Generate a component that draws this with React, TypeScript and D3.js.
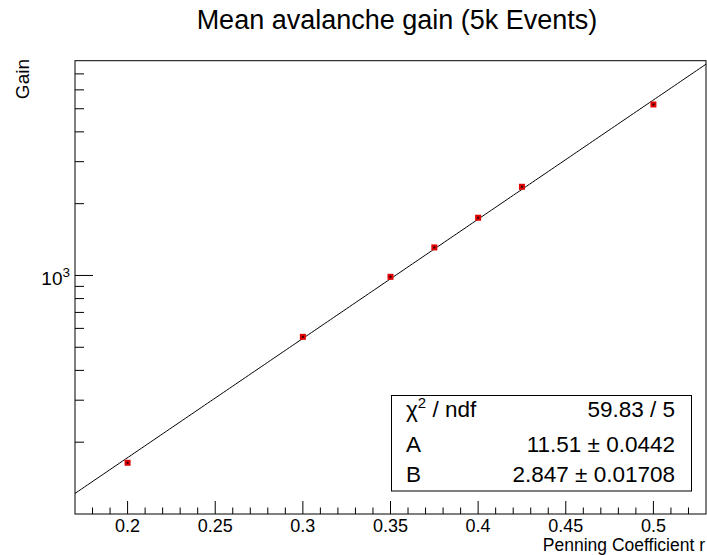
import React from 'react';
import * as d3 from 'd3';

// ---- data ----
const penningCoeff = [0.2, 0.3, 0.35, 0.375, 0.4, 0.425, 0.5];
const meanGain = [164, 553, 987, 1311, 1746, 2354, 5210];
const fitA = 11.51;
const fitB = 2.847;
const xMajorTicks = [0.2, 0.25, 0.3, 0.35, 0.4, 0.45, 0.5];
const xTickLabels = ['0.2', '0.25', '0.3', '0.35', '0.4', '0.45', '0.5'];
const yMajorTicks = [1000];
const yMinorTicks = [200, 300, 400, 500, 600, 700, 800, 900, 2000, 3000, 4000, 5000, 6000, 7000];
const statNames = ['A', 'B'];
const statValues = ['11.51', '2.847'];
const statErrors = ['0.0442', '0.01708'];
const chi2Text = '59.83 / 5';

const FONT = "'Liberation Sans', Arial, Helvetica, sans-serif";

export default function App() {
  const W = 707, H = 555;
  const left = 75, right = 706, top = 60.7, bottom = 514;
  const x = d3.scaleLinear().domain([0.17, 0.53]).range([left, right]);
  const y = d3.scaleLog().domain([100, 7950]).range([bottom, top]);

  const xMinor = d3.range(18, 53).map((i) => i / 100).filter((v) => Math.round(v * 100) % 5 !== 0);
  const fitXs = d3.range(0, 201).map((i) => 0.17 + (0.36 * i) / 200);
  const fitLine = d3
    .line<number>()
    .x((d) => x(d))
    .y((d) => y(Math.exp(fitA * d + fitB)));

  const boxL = 391.5, boxR = 691.5, boxT = 395.5, boxB = 491;
  const rowY = [417, 452, 482];
  const statFs = 22.5;

  return (
    <svg
      width={W}
      height={H}
      style={{ position: 'absolute', left: 0, top: 0, background: '#fff' }}
      fontFamily={FONT}
    >
      <rect x={0} y={0} width={W} height={H} fill="#fff" />
      {/* title */}
      <text x={397} y={28.5} fontSize={27} textAnchor="middle" fill="#000">
        Mean avalanche gain (5k Events)
      </text>

      {/* fit curve */}
      <defs>
        <clipPath id="frameClip">
          <rect x={left} y={top} width={right - left} height={bottom - top} />
        </clipPath>
      </defs>
      <path d={fitLine(fitXs) || ''} fill="none" stroke="#000" strokeWidth={1} clipPath="url(#frameClip)" />

      {/* markers */}
      {penningCoeff.map((p, i) => (
        <g key={i}>
          <rect x={x(p) - 3} y={y(meanGain[i]) - 3} width={6} height={6} fill="#e00000" />
          <rect x={x(p) - 1} y={y(meanGain[i]) - 1} width={2} height={2} fill="#300" />
        </g>
      ))}

      {/* frame */}
      <rect x={left} y={top} width={right - left} height={bottom - top} fill="none" stroke="#000" strokeWidth={1} />

      {/* x ticks */}
      {xMajorTicks.map((t, i) => (
        <g key={'xm' + i}>
          <line x1={x(t)} x2={x(t)} y1={bottom} y2={bottom - 13} stroke="#000" />
          <text x={x(t)} y={531.5} fontSize={18} textAnchor="middle">
            {xTickLabels[i]}
          </text>
        </g>
      ))}
      {xMinor.map((t, i) => (
        <line key={'xn' + i} x1={x(t)} x2={x(t)} y1={bottom} y2={bottom - 6.5} stroke="#000" />
      ))}

      {/* y ticks */}
      {yMajorTicks.map((t, i) => (
        <g key={'ym' + i}>
          <line x1={left} x2={left + 18} y1={y(t)} y2={y(t)} stroke="#000" />
          <text x={70} y={y(t) + 10} fontSize={19} textAnchor="end">
            10
            <tspan fontSize={13.5} dy={-8.5}>
              {Math.round(Math.log10(t))}
            </tspan>
          </text>
        </g>
      ))}
      {yMinorTicks.map((t, i) => (
        <line key={'yn' + i} x1={left} x2={left + 9} y1={y(t)} y2={y(t)} stroke="#000" />
      ))}

      {/* axis titles */}
      <text x={705} y={551} fontSize={17.5} textAnchor="end">
        Penning Coefficient r
      </text>
      <text transform="translate(28.5,59) rotate(-90)" fontSize={19} textAnchor="end">
        Gain
      </text>

      {/* stats box */}
      <rect x={boxL} y={boxT} width={boxR - boxL} height={boxB - boxT} fill="#fff" stroke="#000" strokeWidth={1} />
      <text x={406} y={rowY[0]} fontSize={statFs}>
        χ<tspan fontSize={15} dy={-9}>2</tspan>
        <tspan dy={9}> / ndf</tspan>
      </text>
      <text x={675} y={rowY[0]} fontSize={statFs} textAnchor="end">
        {chi2Text}
      </text>
      {statNames.map((n, i) => (
        <g key={'st' + i}>
          <text x={406} y={rowY[i + 1]} fontSize={statFs}>
            {n}
          </text>
          <text x={675} y={rowY[i + 1]} fontSize={statFs} textAnchor="end">
            {statValues[i]} ± {statErrors[i]}
          </text>
        </g>
      ))}
    </svg>
  );
}
